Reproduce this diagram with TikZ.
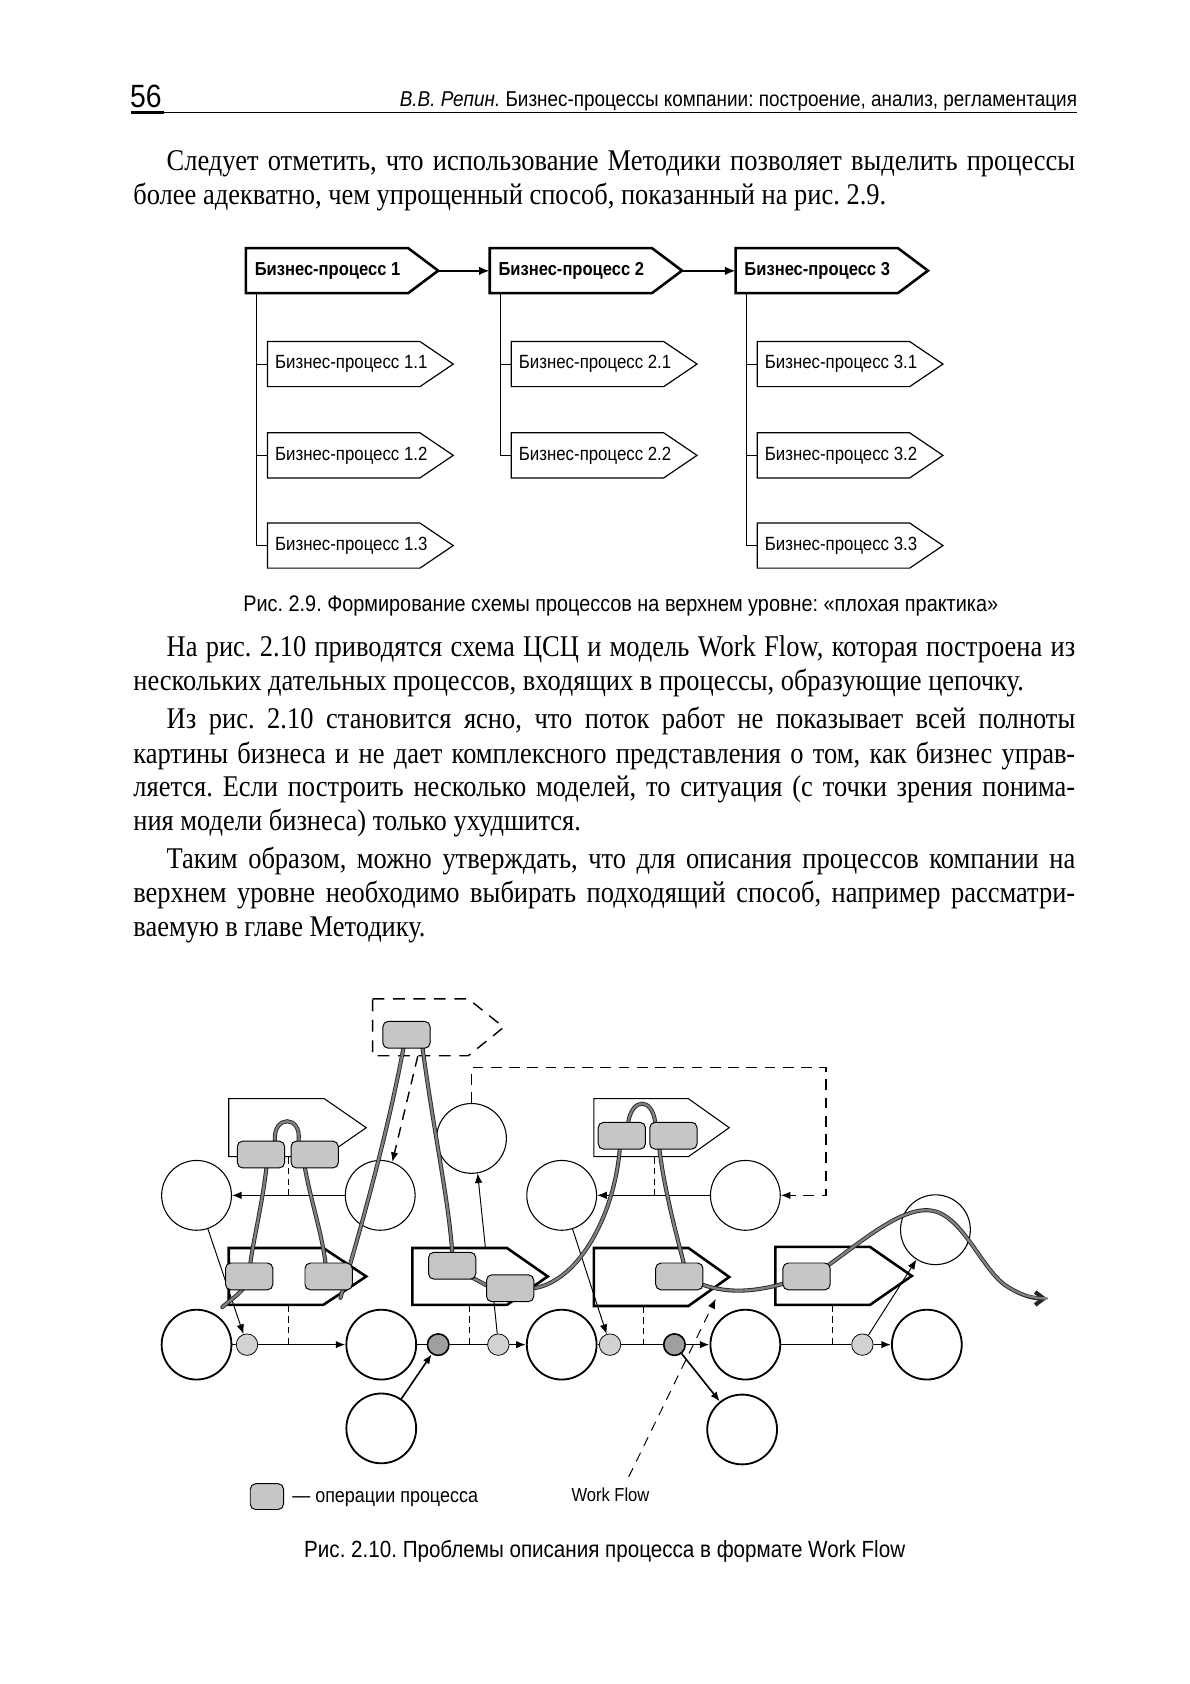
\documentclass[tikz,border=0pt]{standalone}
\usepackage{fontspec}
\setmainfont{Liberation Serif}[FakeStretch=0.88]
\newfontfamily\figfont{Liberation Sans}[FakeStretch=0.88]
\usetikzlibrary{arrows.meta, positioning, calc}
\pgfdeclarelayer{back}
\pgfdeclarelayer{mid}
\pgfsetlayers{back,mid,main}
\frenchspacing

% process shape: [style]{name}{left}{top}{width}{height}{tip}
\newcommand{\procbox}[7][]{%
  \draw[#1] (#3,#4) -- ++(#5,0) -- ++(#7,#6/2) -- ++(-#7,#6/2) -- ++(-#5,0) -- cycle;
  \node[anchor=north west,inner sep=0,minimum width=#5,minimum height=#6] (#2) at (#3,#4) {};
}

\begin{document}
\begin{tikzpicture}[x=1pt,y=-1pt,>={Latex[length=9pt,width=7pt]},
     body/.style={anchor=base west,inner sep=0,font=\fontsize{28}{32}\selectfont},
     caption/.style={anchor=base,inner sep=0,font=\figfont\fontsize{21}{22}\selectfont},
     topbox/.style={line width=2.4pt},
     subbox/.style={line width=1.1pt},
     toptext/.style={anchor=west,inner sep=0,font=\figfont\bfseries\fontsize{17.5}{18}\selectfont},
     subtext/.style={anchor=west,inner sep=0,font=\figfont\fontsize{17.8}{18}\selectfont},
     tree/.style={line width=1.1pt},
     bparrow/.style={line width=2pt,-{Latex[length=10pt,width=8pt]}},
     thinbox/.style={line width=1pt},
     boldbox/.style={line width=2.4pt},
     dashbox/.style={line width=1.3pt,dash pattern=on 11pt off 8pt},
     upc/.style={circle,draw,line width=1pt,minimum size=65pt,inner sep=0},
     lowc/.style={circle,draw,line width=1.7pt,minimum size=65pt,inner sep=0},
     ldot/.style={circle,draw,line width=0.7pt,fill=gray!35,minimum size=20pt,inner sep=0},
     ddot/.style={circle,draw,line width=1.5pt,fill=gray!75,minimum size=20pt,inner sep=0},
     op/.style={rectangle,rounded corners=5pt,draw,line width=0.9pt,fill=gray!45,
                minimum width=44pt,minimum height=25pt,inner sep=0},
     flow/.style={line width=3.8pt,draw=black!85,line cap=round,
                  postaction={draw=black!50,line width=2.2pt,arrows=-}},
     wire/.style={line width=0.9pt},
     trunk/.style={line width=1.5pt},
     dwire/.style={line width=0.9pt,dash pattern=on 6pt off 4pt},
     loopdash/.style={line width=1.3pt,dash pattern=on 10pt off 7pt},
     wfdash/.style={line width=0.9pt,dash pattern=on 9pt off 7pt},
     legend/.style={inner sep=0,font=\figfont\fontsize{19}{20}\selectfont}]
  \begin{pgfonlayer}{back}
    \fill[white] (0,0) rectangle (1108,1568);
  \end{pgfonlayer}
  \useasboundingbox (0,0) rectangle (1108,1568);

  % running head
  \node[anchor=base west,inner sep=0,font=\figfont\fontsize{30}{30}\selectfont] (pagenum) at (121,100) {56};
  \node[anchor=base east,inner sep=0,font=\figfont\fontsize{20}{20}\selectfont] (runhead) at (1003,99)
      {\textit{В.В. Репин.} Бизнес-процессы компании: построение, анализ, регламентация};
  \draw[line width=1.2pt] (122,104.5) -- (1003,104.5);
  \draw[line width=2.6pt] (122,104.5) -- (153,104.5);

  % text before fig. 2.9
  \node[body] (p1a) at (155,158.5) {\makebox[846pt][s]{Следует отметить, что использование Методики позволяет выделить процессы}};
  \node[body] (p1b) at (124,190) {более адекватно, чем упрощенный способ, показанный на рис. 2.9.};

  % fig. 2.9
  \procbox[topbox]{bp1}{229}{231}{151}{42}{28}
  \procbox[topbox]{bp2}{456}{231}{151}{42}{28}
  \procbox[topbox]{bp3}{685}{231}{151}{42}{28}
  \node[toptext] (bp1-t) at ($(bp1.west)+(8,0)$) {Бизнес-процесс 1};
  \node[toptext] (bp2-t) at ($(bp2.west)+(8,0)$) {Бизнес-процесс 2};
  \node[toptext] (bp3-t) at ($(bp3.west)+(8,0)$) {Бизнес-процесс 3};
  \foreach \n/\t/\x/\y in {11/1.1/249/318, 12/1.2/249/403, 13/1.3/249/487,
                            21/2.1/476/318, 22/2.2/476/403,
                            31/3.1/705/318, 32/3.2/705/403, 33/3.3/705/487} {
    \procbox[subbox]{bp\n}{\x}{\y}{142}{42}{31}
    \node[subtext] (bp\n-t) at ($(bp\n.west)+(7,0)$) {Бизнес-процесс \t};
  }
  \draw[bparrow] ($(bp1.east)+(28,0)$) -- (bp2.west);
  \draw[bparrow] ($(bp2.east)+(28,0)$) -- (bp3.west);
  \foreach \s in {bp11,bp12,bp13} \draw[tree] ($(bp1.south west)+(10,0)$) |- (\s.west);
  \foreach \s in {bp21,bp22} \draw[tree] ($(bp2.south west)+(10,0)$) |- (\s.west);
  \foreach \s in {bp31,bp32,bp33} \draw[tree] ($(bp3.south west)+(10,0)$) |- (\s.west);
  \node[caption] (cap1) at (578,569) {Рис. 2.9. Формирование схемы процессов на верхнем уровне: «плохая практика»};

  % text between the figures
  \node[body] (p2a) at (155,611.5) {\makebox[846pt][s]{На рис. 2.10 приводятся схема ЦСЦ и модель Work Flow, которая построена из}};
  \node[body] (p2b) at (124,643) {нескольких дательных процессов, входящих в процессы, образующие цепочку.};
  \node[body] (p3a) at (155,678.5) {\makebox[846pt][s]{Из рис. 2.10 становится ясно, что поток работ не показывает всей полноты}};
  \node[body] (p3b) at (124,710.5) {\makebox[877pt][s]{картины бизнеса и не дает комплексного представления о том, как бизнес управ-}};
  \node[body] (p3c) at (124,742) {\makebox[877pt][s]{ляется. Если построить несколько моделей, то ситуация (с точки зрения понима-}};
  \node[body] (p3d) at (124,773.5) {ния модели бизнеса) только ухудшится.};
  \node[body] (p4a) at (155,808.5) {\makebox[846pt][s]{Таким образом, можно утверждать, что для описания процессов компании на}};
  \node[body] (p4b) at (124,840.5) {\makebox[877pt][s]{верхнем уровне необходимо выбирать подходящий способ, например рассматри-}};
  \node[body] (p4c) at (124,872) {ваемую в главе Методику.};

  % fig. 2.10: processes and objects
  \begin{pgfonlayer}{back}
    \procbox[dashbox]{A0}{347}{930}{89}{53}{33}
    \procbox[thinbox]{A1}{213}{1023}{89}{54}{39}
    \procbox[thinbox]{A2}{553}{1023}{88}{54}{38}
    \procbox[boldbox]{B1}{213}{1162}{88}{53}{40}
    \procbox[boldbox]{B2}{384}{1162}{88}{53}{38}
    \procbox[boldbox]{B3}{553}{1162}{88}{54}{38}
    \procbox[boldbox]{B4}{722}{1161}{88}{54}{39}
    \node[upc] (u1) at (183,1113) {};
    \node[upc] (u2) at (354,1113) {};
    \node[upc] (u3) at (439,1060) {};
    \node[upc] (u4) at (523,1113) {};
    \node[upc] (u5) at (694,1113) {};
    \node[upc] (u6) at (871,1145) {};
    \node[lowc] (c1) at (183,1252) {};
    \node[lowc] (c2) at (355,1252) {};
    \node[lowc] (c3) at (523,1252) {};
    \node[lowc] (c4) at (694,1252) {};
    \node[lowc] (c5) at (863,1252) {};
    \node[lowc] (d1) at (355,1330) {};
    \node[lowc] (d2) at (691,1331) {};
  \end{pgfonlayer}

  % operations
  \node[op] (a0) at (378.5,963.5) {};
  \node[op] (a1) at (243,1075) {};
  \node[op] (a2) at (293,1075) {};
  \node[op] (a3) at (579,1057.5) {};
  \node[op] (a4) at (627,1057.5) {};
  \node[op] (b1) at (232,1188.5) {};
  \node[op] (b2) at (306,1188.5) {};
  \node[op] (b3) at (421,1178.5) {};
  \node[op] (b4) at (475,1199.5) {};
  \node[op] (b5) at (632.5,1188.5) {};
  \node[op] (b6) at (751,1188.5) {};

  % events
  \node[ldot] (s1) at (230,1252) {};
  \node[ddot] (s2) at (408,1252) {};
  \node[ldot] (s3) at (464,1252) {};
  \node[ldot] (s4) at (568,1252) {};
  \node[ddot] (s5) at (628,1252) {};
  \node[ldot] (s6) at (803,1252) {};

  \begin{pgfonlayer}{back}
    \draw[wire,->] (u2) -- (u1);
    \draw[wire,->] (u5) -- (u4);
    \draw[wire,->] (u1) -- (s1);
    \draw[wire,->] (u4) -- (s4);
    \draw[wire] ($(b4.south)+(-15,0)$) -- (s3);
    \draw[wire,->] (s6) -- (u6);
    \draw[wire,->] ($(B2.north west)+(68,0)$) -- (u3.280);
    \draw[dwire] ($(A1.south west)+(56,0)$) -- ++(0,36);
    \draw[dwire] ($(A2.south west)+(56,0)$) -- ++(0,36);
    \draw[dwire] ($(B1.south west)+(56,0)$) -- ++(0,37);
    \draw[dwire] ($(B2.south west)+(53,0)$) -- ++(0,37);
    \draw[dwire] ($(B3.south west)+(46,0)$) -- ++(0,36);
    \draw[dwire] ($(B4.south west)+(53,0)$) -- ++(0,37);
    \draw[loopdash,->] (u3.north) |- (769,994) -- (769,1113) -- (u5.east);
    \draw[loopdash,->] ($(A0.south west)+(42,0)$) -- (u2.70);
    \draw[trunk] (c1) -- (s1);
    \draw[trunk,->] (s1) -- (c2);
    \draw[trunk] (c2) -- (s2);
    \draw[trunk] (s2) -- (s3);
    \draw[trunk,->] (s3) -- (c3);
    \draw[trunk] (c3) -- (s4);
    \draw[trunk] (s4) -- (s5);
    \draw[trunk,->] (s5) -- (c4);
    \draw[trunk] (c4) -- (s6);
    \draw[trunk,->] (s6) -- (c5);
    \draw[trunk,->] (d1) -- (s2);
    \draw[trunk,->] (s5) -- (d2);
  \end{pgfonlayer}

  % the work flow
  \begin{pgfonlayer}{mid}
    \draw[flow] ($(a1.north)+(13,0)$) .. controls (254,1038) and (281,1038) .. ($(a2.north)+(-15,0)$);
    \draw[flow] ($(a1.south)+(5,0)$) .. controls (243,1130) and (233,1165) .. (b1.center)
                .. controls (231,1200) and (215,1210) .. (207,1217);
    \draw[flow] ($(a2.south)+(-9,0)$) .. controls (290,1120) and (300,1150) .. ($(b2.north)+(-3,0)$);
    \draw[flow] ($(a0.south)+(-3,0)$) .. controls (360,1060) and (334,1150) .. ($(b2.south)+(11,7)$);
    \draw[flow] ($(a0.south)+(15,0)$) .. controls (405,1060) and (418,1120) .. (b3.north);
    \draw[flow] ($(b3.south east)+(-4,-2)$) -- ($(b4.west)+(0,-3)$);
    \draw[flow] (b4.east) .. controls (540,1192) and (572,1130) .. ($(a3.south)+(-2,0)$);
    \draw[flow] ($(a3.north)+(6,0)$) .. controls (589,1022) and (607,1022) .. ($(a4.north)+(-17,0)$);
    \draw[flow] ($(a4.south)+(-13,0)$) .. controls (619,1110) and (630,1150) .. ($(b5.north)+(4,0)$);
    \draw[flow] ($(b5.east)+(0,8)$) .. controls (680,1205) and (705,1202) .. ($(b6.west)+(0,7)$);
    \draw[flow,-{Straight Barb[length=8pt,width=12pt]}] ($(b6.north east)+(-3,3)$)
                .. controls (800,1158) and (838,1124) .. (866,1127)
                .. controls (895,1130) and (912,1178) .. (935,1196)
                .. controls (948,1205) and (960,1209) .. (975,1209);
  \end{pgfonlayer}

  % legend
  \node[op,minimum width=31pt,minimum height=24pt] (oplegend) at (248.5,1393.5) {};
  \node[legend,anchor=base west] (oplabel) at (272,1399) {— операции процесса};
  \node[legend,anchor=base west,font=\figfont\fontsize{17.5}{18}\selectfont] (wf) at (532,1398) {Work Flow};
  \draw[wfdash,->] ($(wf.north)+(17,-10)$) -- ($(B3.south east)+(25,-7)$);
  \node[caption,font=\figfont\fontsize{21.8}{22}\selectfont] (cap2) at (563,1450) {Рис. 2.10. Проблемы описания процесса в формате Work Flow};
\end{tikzpicture}
\end{document}
